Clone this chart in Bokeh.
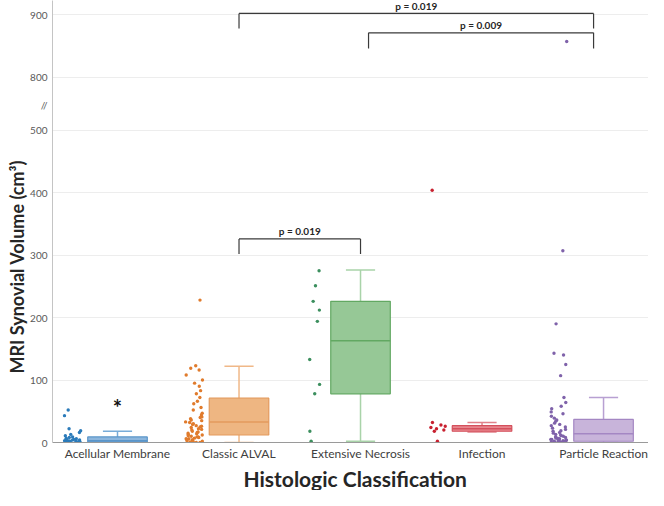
import math
from bokeh.plotting import figure
from bokeh.models import ColumnDataSource, FixedTicker, Label, Title
from bokeh.transform import jitter
from bokeh.core.properties import value
from bokeh.embed import file_html
from bokeh.resources import INLINE

# ---------------- data ----------------
categories = ["Acellular Membrane", "Classic ALVAL", "Extensive Necrosis",
              "Infection", "Particle Reaction"]

acellular_membrane = [52, 43, 22, 19, 16, 13, 11, 9, 8, 7, 6, 5, 5, 4, 4, 3, 3,
                      2, 2, 2, 1, 1, 1, 0, 0, 0, 0]
classic_alval = [228, 123, 119, 116, 108, 100, 95, 90, 83, 78, 72, 66, 62, 56,
                 52, 47, 44, 41, 40, 38, 36, 35, 33, 32, 30, 29, 27, 26, 25, 24,
                 22, 21, 20, 18, 17, 16, 15, 14, 13, 12, 11, 10, 9, 9, 8, 7, 6,
                 6, 5, 4, 4, 3, 2, 2, 1, 1, 0, 0]
extensive_necrosis = [275, 251, 226, 212, 194, 133, 93, 78, 18, 2]
infection = [404, 32, 28, 26, 24, 22, 20, 18, 2]
particle_reaction = [857, 307, 190, 143, 140, 125, 107, 72, 64, 58, 54, 49, 46,
                     42, 39, 36, 34, 31, 29, 27, 25, 23, 21, 19, 18, 16, 15, 13,
                     12, 11, 10, 9, 8, 7, 7, 6, 5, 5, 4, 4, 3, 3, 3, 2, 2, 2, 1,
                     1, 1, 1, 0, 0, 0, 0, 0, 0]

box_low = [0, 0, 2, 17, 0]
box_q1 = [1, 12, 78, 18, 2]
box_median = [3, 33, 163, 22, 14]
box_q3 = [9, 71, 226, 27, 37]
box_high = [18, 122, 276, 32, 72]

y_tick_values = [0, 100, 200, 300, 400, 500, 800, 900]

# significance brackets
bracket_from = [1.0, 1.0, 2.066]
bracket_to = [2.0, 3.918, 3.918]
bracket_level = [326, 687, 656]
bracket_drop = [302, 663, 631]
bracket_label = ["p = 0.019", "p = 0.019", "p = 0.009"]
bracket_label_y = [339, 699, 669]

# ---------------- styles ----------------
FONT = "Lato"
point_colors = ["#2b7bba", "#e07b2c", "#3c8f5e", "#c8202f", "#7f62aa"]
box_fills = ["#8cb6dd", "#eeb682", "#96c896", "#e8868e", "#c8b4da"]
box_lines = ["#5a95c9", "#e39a5c", "#62a862", "#d4505c", "#a487c3"]
whisker_colors = ["#79acd8", "#f0b888", "#a9d3a9", "#e0838b", "#b8a0d2"]

# broken axis: values above the break are shifted down
BREAK_AT = 500
BREAK_SHIFT = 215
BREAK_MARK = 540


def to_axis(v):
    return v if v <= BREAK_AT else v - BREAK_SHIFT


series = [acellular_membrane, classic_alval, extensive_necrosis, infection,
          particle_reaction]

p = figure(width=648, height=490, output_backend="svg", toolbar_location=None,
           x_range=(-0.535, 4.37), y_range=(0, 707.7),
           min_border_left=52, min_border_top=0, min_border_right=0,
           min_border_bottom=47)
p.outline_line_color = None
p.background_fill_color = "white"
p.border_fill_color = "white"

# grid
tick_pos = [to_axis(v) for v in y_tick_values]
p.xgrid.grid_line_color = None
p.ygrid.ticker = FixedTicker(ticks=tick_pos)
p.ygrid.grid_line_color = "#ededed"
p.ygrid.grid_line_width = 1

# axes
overrides = {tp: str(v) for tp, v in zip(tick_pos, y_tick_values)}
overrides[BREAK_MARK] = "//"
p.yaxis.ticker = FixedTicker(ticks=tick_pos + [BREAK_MARK])
p.yaxis.major_label_overrides = overrides
p.xaxis.ticker = FixedTicker(ticks=list(range(len(categories))))
p.xaxis.major_label_overrides = {i: c for i, c in enumerate(categories)}
for ax in (p.xaxis, p.yaxis):
    ax.major_tick_line_color = None
    ax.minor_tick_line_color = None
    ax.major_tick_out = 0
    ax.major_tick_in = 0
    ax.major_label_text_font = FONT
p.yaxis.axis_line_color = "#c4c4c4"
p.xaxis.axis_line_color = "#9a9a9a"
p.yaxis.major_label_text_font_size = "10px"
p.yaxis.major_label_text_color = "#595959"
p.yaxis.major_label_standoff = 5
p.xaxis.major_label_text_font_size = "12px"
p.xaxis.major_label_text_color = "#404040"
p.xaxis.major_label_standoff = 3

# axis titles
p.add_layout(Title(text="MRI Synovial Volume (cm³)", align="left", offset=69,
                   standoff=0, text_font=FONT, text_font_style="bold",
                   text_font_size="18px", text_color="#262626"), "left")
p.add_layout(Title(text="Histologic Classification", align="left", offset=191,
                   standoff=0, text_font=FONT, text_font_style="bold",
                   text_font_size="21px", text_color="#262626"), "below")

# jittered points
POINT_OFFSET = -0.37
for i, vals in enumerate(series):
    src = ColumnDataSource(dict(x=[i + POINT_OFFSET] * len(vals),
                                y=[to_axis(v) for v in vals]))
    p.scatter(x=jitter("x", width=0.14), y="y", source=src, size=3.4,
              color=point_colors[i], line_color=None)

# box plots
BOX_W = 0.49
CAP_W = 0.24
idx = list(range(len(categories)))
box_src = ColumnDataSource(dict(
    x=idx, q1=box_q1, q3=box_q3, med=box_median, lo=box_low, hi=box_high,
    fill=box_fills, line=box_lines, wcol=whisker_colors,
    bx0=[i - BOX_W / 2 for i in idx], bx1=[i + BOX_W / 2 for i in idx],
    cx0=[i - CAP_W / 2 for i in idx], cx1=[i + CAP_W / 2 for i in idx],
))
p.segment(x0="x", y0="q3", x1="x", y1="hi", source=box_src, line_color="wcol", line_width=1.5)
p.segment(x0="x", y0="q1", x1="x", y1="lo", source=box_src, line_color="wcol", line_width=1.5)
p.segment(x0="cx0", y0="hi", x1="cx1", y1="hi", source=box_src, line_color="wcol", line_width=1.5)
p.segment(x0="cx0", y0="lo", x1="cx1", y1="lo", source=box_src, line_color="wcol", line_width=1.5)
p.vbar(x="x", width=BOX_W, bottom="q1", top="q3", source=box_src,
       fill_color="fill", line_color="line", line_width=1.2)
p.segment(x0="bx0", y0="med", x1="bx1", y1="med", source=box_src,
          line_color="line", line_width=1.5)

# significance brackets
br_src = ColumnDataSource(dict(x0=bracket_from, x1=bracket_to, y=bracket_level,
                               yd=bracket_drop, text=bracket_label,
                               ty=bracket_label_y,
                               tx=[(a + b) / 2 for a, b in zip(bracket_from, bracket_to)]))
p.segment(x0="x0", y0="y", x1="x1", y1="y", source=br_src, line_color="#3a3a3a", line_width=1.2)
p.segment(x0="x0", y0="y", x1="x0", y1="yd", source=br_src, line_color="#3a3a3a", line_width=1.2)
p.segment(x0="x1", y0="y", x1="x1", y1="yd", source=br_src, line_color="#3a3a3a", line_width=1.2)
p.text(x="tx", y="ty", text="text", source=br_src, text_align="center",
       text_baseline="middle", text_font=value(FONT), text_font_style="bold",
       text_font_size="10px", text_color="#262626")

# asterisk over Acellular Membrane
p.add_layout(Label(x=0, y=56, text="*", text_align="center", text_baseline="middle",
                   text_font=FONT, text_font_style="bold", text_font_size="22px",
                   text_color="#111111"))

open("out.html", "w").write(file_html(p, INLINE))
